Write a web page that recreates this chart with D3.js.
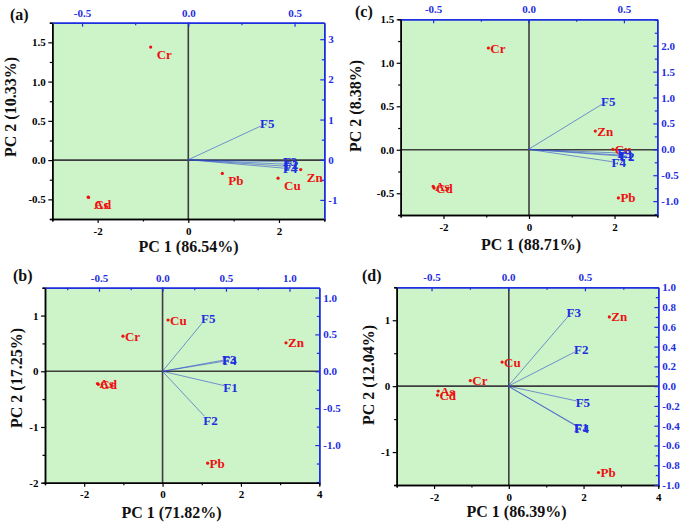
<!DOCTYPE html>
<html><head><meta charset="utf-8">
<script src="https://cdn.jsdelivr.net/npm/d3@7/dist/d3.min.js"></script>
<style>
body{margin:0;background:#fff}
svg{display:block}
text{font-family:"Liberation Serif","Times New Roman",serif;font-weight:bold}
</style>
</head><body>
<svg id="chart" width="685" height="525"></svg>
<script>
// ---------------- DATA ----------------
// Panel (a)
const aElements = ["Cr","Pb","Cu","Zn","As","Cd"];
const aScorePC1 = [-0.83, 0.75, 1.98, 2.48, -2.21, -2.20];
const aScorePC2 = [1.44, -0.17, -0.23, -0.12, -0.47, -0.475];
const aVariables = ["F5","F4","F1","F2","F3"];
const aLoadPC1 = [0.342, 0.45, 0.455, 0.455, 0.45];
const aLoadPC2 = [0.84, -0.21, -0.16, -0.11, -0.05];
const aTitles = ["(a)", "PC 1 (86.54%)", "PC 2 (10.33%)"];
const aBottomTicks = [-2, 0, 2];
const aLeftTicks = [-0.5, 0, 0.5, 1.0, 1.5];
const aTopTicks = [-0.5, 0, 0.5];
const aRightTicks = [-1, 0, 1, 2, 3];

// Panel (b)
const bElements = ["Cu","Cr","Zn","As","Cd","Pb"];
const bScorePC1 = [0.14, -1.01, 3.15, -1.66, -1.64, 1.15];
const bScorePC2 = [0.92, 0.63, 0.51, -0.22, -0.235, -1.65];
const bVariables = ["F5","F3","F4","F1","F2"];
const bLoadPC1 = [0.311, 0.477, 0.48, 0.487, 0.329];
const bLoadPC2 = [0.65, 0.15, 0.135, -0.195, -0.606];
const bTitles = ["(b)", "PC 1 (71.82%)", "PC 2 (17.25%)"];
const bBottomTicks = [-2, 0, 2, 4];
const bLeftTicks = [-2, -1, 0, 1];
const bTopTicks = [-0.5, 0, 0.5, 1.0];
const bRightTicks = [-1.0, -0.5, 0, 0.5, 1.0];

// Panel (c)
const cElements = ["Cr","Zn","Cu","Pb","As","Cd"];
const cScorePC1 = [-0.95, 1.55, 1.96, 2.09, -2.24, -2.22];
const cScorePC2 = [1.17, 0.215, 0.005, -0.554, -0.42, -0.44];
const cVariables = ["F5","F4","F2","F1","F3"];
const cLoadPC1 = [0.385, 0.44, 0.485, 0.48, 0.47];
const cLoadPC2 = [0.87, -0.24, -0.13, -0.11, -0.07];
const cTitles = ["(c)", "PC 1 (88.71%)", "PC 2 (8.38%)"];
const cBottomTicks = [-2, 0, 2];
const cLeftTicks = [-0.5, 0, 0.5, 1.0, 1.5];
const cTopTicks = [-0.5, 0, 0.5];
const cRightTicks = [-1.0, -0.5, 0, 0.5, 1.0, 1.5, 2.0];

// Panel (d)
const dElements = ["Zn","Cu","Cr","As","Cd","Pb"];
const dScorePC1 = [2.69, -0.18, -1.03, -1.89, -1.91, 2.40];
const dScorePC2 = [1.05, 0.365, 0.085, -0.075, -0.135, -1.31];
const dVariables = ["F3","F2","F5","F1","F4"];
const dLoadPC1 = [0.387, 0.435, 0.446, 0.435, 0.438];
const dLoadPC2 = [0.70, 0.347, -0.15, -0.39, -0.40];
const dTitles = ["(d)", "PC 1 (86.39%)", "PC 2 (12.04%)"];
const dBottomTicks = [-2, 0, 2, 4];
const dLeftTicks = [-1, 0, 1];
const dTopTicks = [-0.5, 0, 0.5];
const dRightTicks = [-1.0, -0.8, -0.6, -0.4, -0.2, 0, 0.2, 0.4, 0.6, 0.8, 1.0];

// ---------------- LAYOUT ----------------
const RED = "#ee1111", BLUE = "#1e2ee0", VEC = "#2f4fc8", BG = "#cdf3c9";
const loc = d3.formatLocale({decimal:".", thousands:",", grouping:[3], currency:["",""], minus:"-"});
const f0 = loc.format(".0f"), f1 = loc.format(".1f");

const panels = [
  {el:aElements, s1:aScorePC1, s2:aScorePC2, vars:aVariables, l1:aLoadPC1, l2:aLoadPC2, titles:aTitles,
   bt:aBottomTicks, lt:aLeftTicks, tt:aTopTicks, rt:aRightTicks,
   box:[52.3,324.3,22.7,219], xd:[-3,3], yd:[-0.75,1.75], td:[-0.64,0.64], rd:[-1.475,3.41],
   fb:f0, fl:f1, ft:f1, fr:f0, mb:1, ml:0.25, mt:0.25, mr:0.5, lab:[6,12],
   tag:[10,19.5], xt:[188.5,252], yt:[16,107]},
  {el:bElements, s1:bScorePC1, s2:bScorePC2, vars:bVariables, l1:bLoadPC1, l2:bLoadPC2, titles:bTitles,
   bt:bBottomTicks, lt:bLeftTicks, tt:bTopTicks, rt:bRightTicks,
   box:[45,319.3,287.7,482.7], xd:[-3,4], yd:[-2,1.5], td:[-0.925,1.235], rd:[-1.51,1.133],
   fb:f0, fl:f0, ft:f1, fr:f1, mb:1, ml:0.5, mt:0.25, mr:0.25, lab:[2,4.5],
   tag:[13,281], xt:[171.5,518], yt:[22,378]},
  {el:cElements, s1:cScorePC1, s2:cScorePC2, vars:cVariables, l1:cLoadPC1, l2:cLoadPC2, titles:cTitles,
   bt:cBottomTicks, lt:cLeftTicks, tt:cTopTicks, rt:cRightTicks,
   box:[400.7,657.3,19.3,215], xd:[-3,3], yd:[-0.75,1.5], td:[-0.67,0.675], rd:[-1.268,2.51],
   fb:f0, fl:f1, ft:f1, fr:f1, mb:1, ml:0.25, mt:0.25, mr:0.25, lab:[2,4.5],
   tag:[355,17], xt:[531,250], yt:[361,106]},
  {el:dElements, s1:dScorePC1, s2:dScorePC2, vars:dVariables, l1:dLoadPC1, l2:dLoadPC2, titles:dTitles,
   bt:dBottomTicks, lt:dLeftTicks, tt:dTopTicks, rt:dRightTicks,
   box:[396.7,658.3,287.3,485], xd:[-3,4], yd:[-1.5,1.5], td:[-0.727,0.978], rd:[-1,1],
   fb:f0, fl:f0, ft:f1, fr:f1, mb:1, ml:0.5, mt:0.25, mr:0.1, lab:[2,4.5],
   tag:[362,281], xt:[516.5,517], yt:[374,375]}
];

const svg = d3.select("#chart");

function minorTicks(domain, step, major){
  const out = [];
  const start = Math.ceil(domain[0]/step - 1e-9), end = Math.floor(domain[1]/step + 1e-9);
  for (let i = start; i <= end; i++){
    const v = +(i*step).toFixed(6);
    if (!major.some(m => Math.abs(m - v) < 1e-9)) out.push(v);
  }
  return out;
}

panels.forEach(p => {
  const [x0,x1,y0,y1] = p.box;
  const x = d3.scaleLinear().domain(p.xd).range([x0,x1]);
  const y = d3.scaleLinear().domain(p.yd).range([y1,y0]);
  const xt = d3.scaleLinear().domain(p.td).range([x0,x1]);
  const yr = d3.scaleLinear().domain(p.rd).range([y1,y0]);
  const g = svg.append("g");

  g.append("rect").attr("x",x0).attr("y",y0).attr("width",x1-x0).attr("height",y1-y0).attr("fill",BG);

  // zero lines
  g.append("line").attr("x1",x0).attr("x2",x1).attr("y1",y(0)).attr("y2",y(0))
    .attr("stroke","#3d3d3d").attr("stroke-width",1.6);
  g.append("line").attr("x1",x(0)).attr("x2",x(0)).attr("y1",y0).attr("y2",y1)
    .attr("stroke","#3d3d3d").attr("stroke-width",1.6);

  // loading vectors
  const vecs = p.vars.map((v,i) => ({name:v, a:p.l1[i], b:p.l2[i]}));
  g.selectAll(null).data(vecs).enter().append("line")
    .attr("x1",xt(0)).attr("y1",yr(0))
    .attr("x2",d=>xt(d.a)).attr("y2",d=>yr(d.b))
    .attr("stroke",VEC).attr("stroke-opacity",0.6).attr("stroke-width",1);

  // scores
  const pts = p.el.map((e,i) => ({name:e, a:p.s1[i], b:p.s2[i]}));
  g.selectAll(null).data(pts).enter().append("circle")
    .attr("cx",d=>x(d.a)).attr("cy",d=>y(d.b)).attr("r",1.6).attr("fill",RED);
  g.selectAll(null).data(pts).enter().append("text")
    .attr("x",d=>x(d.a)+p.lab[0]).attr("y",d=>y(d.b)+p.lab[1])
    .attr("fill",RED).attr("font-size",13).text(d=>d.name);

  // vector labels
  g.selectAll(null).data(vecs).enter().append("text")
    .attr("x",d=>xt(d.a)-1)
    .attr("y",d=>{
      const dx = xt(d.a)-xt(0), dy = yr(d.b)-yr(0), L = Math.hypot(dx,dy);
      return yr(d.b) + 6*dy/L;
    })
    .attr("dy","0.35em").attr("fill",BLUE).attr("font-size",13).text(d=>d.name);

  // axes
  const styleAxis = (sel, color) => {
    sel.select(".domain").attr("stroke",color).attr("stroke-width",1.5);
    sel.selectAll(".tick line").attr("stroke",color).attr("stroke-width",1.2);
    sel.selectAll(".tick text").attr("fill",color).attr("font-size",11)
      .attr("font-family","'Liberation Serif','Times New Roman',serif").attr("font-weight","bold");
  };
  const mB = g.append("g").attr("transform",`translate(0,${y1})`)
    .call(d3.axisBottom(x).tickValues(minorTicks(p.xd,p.mb,p.bt)).tickSize(2.5).tickFormat(""));
  styleAxis(mB,"#000");
  const mL = g.append("g").attr("transform",`translate(${x0},0)`)
    .call(d3.axisLeft(y).tickValues(minorTicks(p.yd,p.ml,p.lt)).tickSize(2.5).tickFormat(""));
  styleAxis(mL,"#000");
  const mT = g.append("g").attr("transform",`translate(0,${y0})`)
    .call(d3.axisTop(xt).tickValues(minorTicks(p.td,p.mt,p.tt)).tickSizeInner(-2.5).tickSizeOuter(0).tickFormat(""));
  styleAxis(mT,BLUE);
  const mR = g.append("g").attr("transform",`translate(${x1},0)`)
    .call(d3.axisRight(yr).tickValues(minorTicks(p.rd,p.mr,p.rt)).tickSizeInner(-2.5).tickSizeOuter(0).tickFormat(""));
  styleAxis(mR,BLUE);

  const aB = g.append("g").attr("transform",`translate(0,${y1})`)
    .call(d3.axisBottom(x).tickValues(p.bt).tickFormat(p.fb).tickSizeInner(4).tickSizeOuter(0).tickPadding(4));
  styleAxis(aB,"#000");
  const aL = g.append("g").attr("transform",`translate(${x0},0)`)
    .call(d3.axisLeft(y).tickValues(p.lt).tickFormat(p.fl).tickSizeInner(4).tickSizeOuter(0).tickPadding(2.5));
  styleAxis(aL,"#000");
  const aT = g.append("g").attr("transform",`translate(0,${y0})`)
    .call(d3.axisTop(xt).tickValues(p.tt).tickFormat(p.ft).tickSizeInner(-4).tickSizeOuter(0).tickPadding(6));
  styleAxis(aT,BLUE);
  const aR = g.append("g").attr("transform",`translate(${x1},0)`)
    .call(d3.axisRight(yr).tickValues(p.rt).tickFormat(p.fr).tickSizeInner(-4).tickSizeOuter(0).tickPadding(4));
  styleAxis(aR,BLUE);

  // titles
  g.append("text").attr("x",p.tag[0]).attr("y",p.tag[1]).attr("font-size",16).attr("fill","#111").text(p.titles[0]);
  g.append("text").attr("x",p.xt[0]).attr("y",p.xt[1]).attr("text-anchor","middle")
    .attr("font-size",16).attr("fill","#111").text(p.titles[1]);
  g.append("text").attr("transform",`translate(${p.yt[0]},${p.yt[1]}) rotate(-90)`)
    .attr("text-anchor","middle").attr("font-size",16).attr("fill","#111").text(p.titles[2]);
});
</script>
</body></html>
